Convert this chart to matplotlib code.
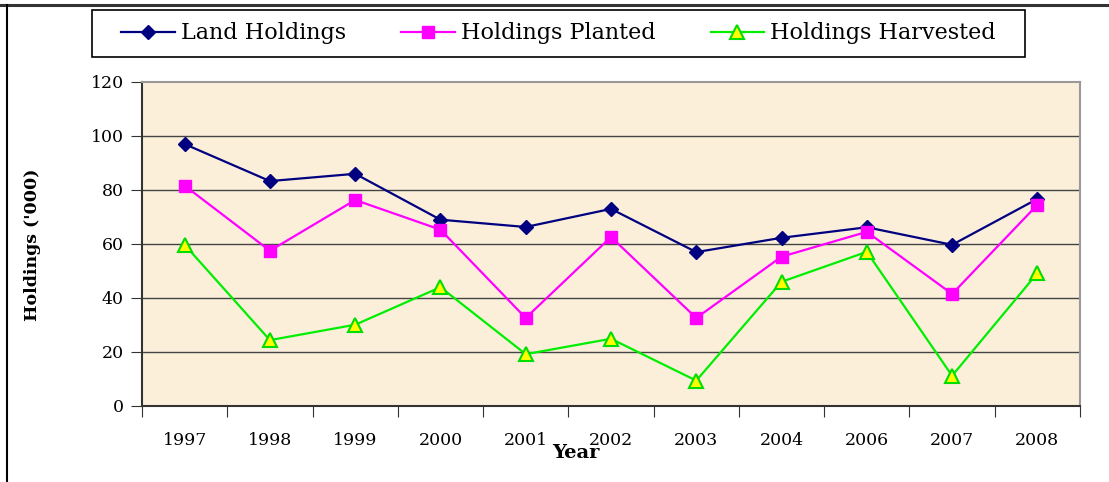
import matplotlib
matplotlib.use("Agg")
import matplotlib.pyplot as plt
from matplotlib.lines import Line2D
from matplotlib.patches import Rectangle

years = ["1997", "1998", "1999", "2000", "2001", "2002", "2003", "2004", "2006", "2007", "2008"]
land_holdings = [97, 83.3, 86, 69, 66.3, 73, 57, 62.3, 66.2, 59.7, 76.7]
holdings_planted = [81.6, 57.5, 76.3, 65.3, 32.6, 62.6, 32.6, 55.3, 64.5, 41.5, 74.5]
holdings_harvested = [59.7, 24.4, 30.1, 44, 19.2, 24.9, 9.4, 46, 57.1, 11.2, 49.2]
y_ticks = [0, 20, 40, 60, 80, 100, 120]

plt.rcParams['font.family'] = ['DejaVu Serif']

W, H = 1109, 482
fig = plt.figure(figsize=(W / 100, H / 100), dpi=100)
ax = fig.add_axes([142 / W, (H - 406) / H, (1080 - 142) / W, (406 - 82) / H])
ax.set_facecolor('#FCEFDA')

x = list(range(len(years)))
ax.plot(x, land_holdings, color='#000080', lw=1.6, marker='D', ms=7.5,
        mfc='#000080', mec='#000080', label='Land Holdings', zorder=4)
ax.plot(x, holdings_planted, color='#FF00FF', lw=1.6, marker='s', ms=9,
        mfc='#FF00FF', mec='#FF00FF', label='Holdings Planted', zorder=4)
ax.plot(x, holdings_harvested, color='#00EE00', lw=1.6, marker='^', ms=10,
        mfc='#FFFF00', mec='#00DD00', mew=1.5, label='Holdings Harvested', zorder=4)

ax.set_ylim(0, 120)
ax.set_xlim(-0.5, len(years) - 0.5)
ax.set_yticks(y_ticks)
ax.set_yticklabels([str(v) for v in y_ticks], fontsize=12.5)
ax.set_xticks([i - 0.5 for i in range(len(years) + 1)])
ax.set_xticklabels([])
ax.set_xticks(x, minor=True)
ax.set_xticklabels(years, minor=True, fontsize=12.5)
ax.tick_params(axis='x', which='minor', length=0, pad=19)
ax.tick_params(axis='x', which='major', length=8, direction='out', color='#333333')
ax.tick_params(axis='y', length=8, direction='out', color='#333333', pad=5)

for v in y_ticks[1:-1]:
    ax.axhline(v, color='#444444', lw=1.0, zorder=1)

for s in ['left', 'bottom']:
    ax.spines[s].set_color('#333333')
    ax.spines[s].set_linewidth(1.5)
for s in ['right', 'top']:
    ax.spines[s].set_color('#999999')
    ax.spines[s].set_linewidth(1.5)

fig.text(33 / W, 1 - 245 / H, "Holdings ('000)", rotation=90, fontsize=12.5,
         fontweight='bold', ha='center', va='center')
fig.text(576 / W, 1 - 453 / H, "Year", fontsize=14, fontweight='bold',
         ha='center', va='center')

# legend frame
fig.add_artist(Rectangle((92 / W, 1 - 57 / H), (1025 - 92) / W, 47 / H,
                         transform=fig.transFigure, facecolor='white',
                         edgecolor='black', lw=1.2))
handles, labels = ax.get_legend_handles_labels()
leg = fig.legend(handles, labels, loc='center',
                 bbox_to_anchor=(558.5 / W, 1 - 33.5 / H),
                 ncol=3, fontsize=16, frameon=False,
                 handlelength=2.4, handletextpad=0.27, columnspacing=2.5,
                 borderaxespad=0, borderpad=0)

fig.add_artist(Line2D([0, 1], [1 - 5 / H, 1 - 5 / H], transform=fig.transFigure,
                      color='#333333', lw=2.2))
fig.add_artist(Line2D([7 / W, 7 / W], [0, 1 - 5 / H], transform=fig.transFigure,
                      color='black', lw=1.5))

fig.savefig('out.png', dpi=100)
